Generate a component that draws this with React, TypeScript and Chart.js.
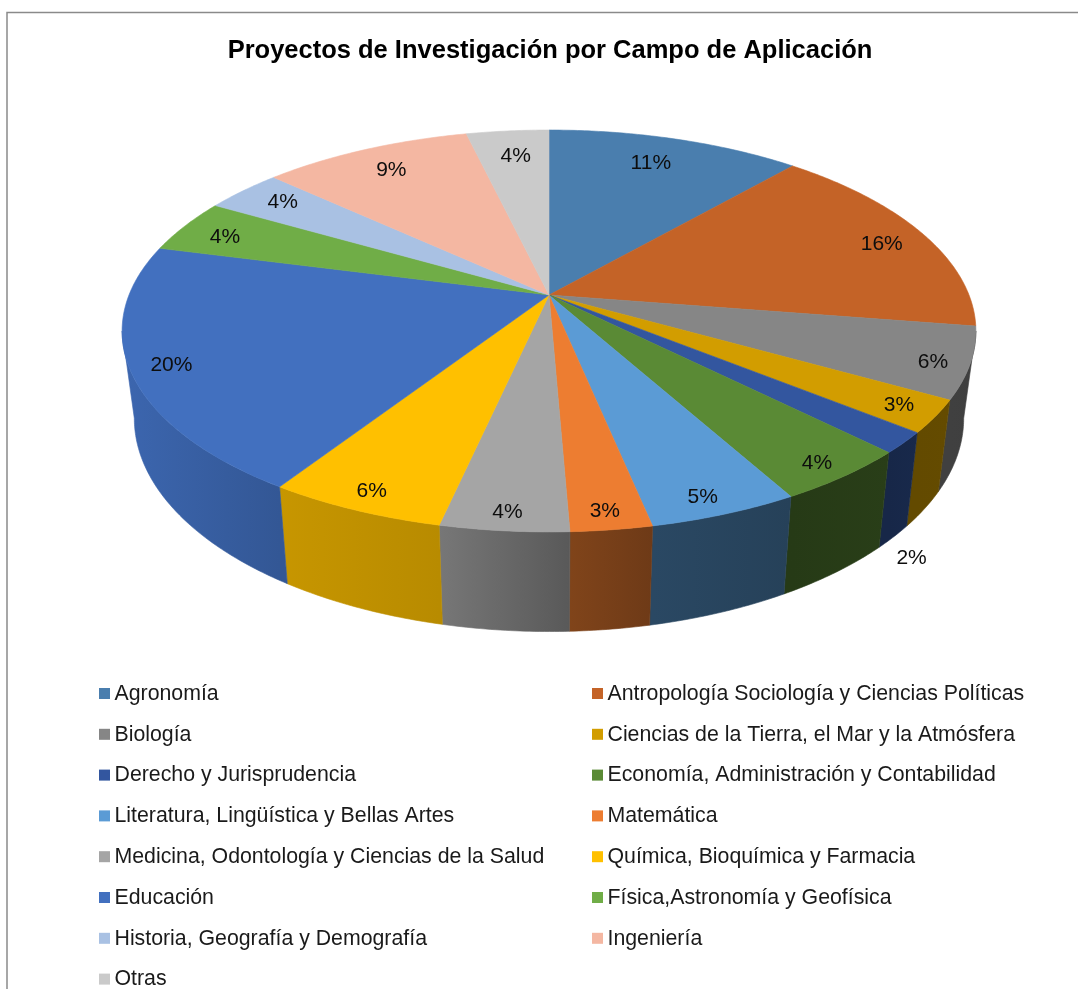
import React, { useEffect, useRef } from "react";
import { Chart, registerables } from "chart.js";

Chart.register(...registerables);

const categories = [
  "Agronomía",
  "Antropología Sociología y Ciencias Políticas",
  "Biología",
  "Ciencias de la Tierra, el Mar y la Atmósfera",
  "Derecho y Jurisprudencia",
  "Economía, Administración y Contabilidad",
  "Literatura, Lingüística y Bellas Artes",
  "Matemática",
  "Medicina, Odontología y Ciencias de la Salud",
  "Química, Bioquímica y Farmacia",
  "Educación",
  "Física,Astronomía y Geofísica",
  "Historia, Geografía y Demografía",
  "Ingeniería",
  "Otras",
];
const shares = [11.4, 16, 5.7, 2.6, 1.7, 4.4, 4.8, 2.6, 4.1, 5.7, 19.8, 4.3, 3.5, 9.4, 3.7];
const colors = [
  "#4a7eae", "#c46327", "#868686", "#d29d00", "#33569f",
  "#5a8a35", "#5b9bd5", "#ed7d31", "#a5a5a5", "#ffc000",
  "#4270bf", "#70ad47", "#a9c1e3", "#f4b7a2", "#cacaca",
];
const labelRadii = [0.82, 0.875, 0.92, 0.915, 0, 0.93, 0.93, 0.935, 0.935, 0.925, 0.91, 0.874, 0.866, 0.84, 0.825];
const labelTurns = [-0.016, 0.03, 0.024, 0, 0, 0.01, 0.018, 0.004, 0, 0, -0.012, -0.02, 0.008, 0, 0.006];
const title = "Proyectos de Investigación por Campo de Aplicación";

const FONT = '"Liberation Sans", Arial, sans-serif';
const K = 0.179;
const TOP = { cx: 549, cy: 295, rx: 420, ry: 194.5 };
const BOTTOM = { cx: 549, cy: 380, rx: 408, ry: 206.5 };
// wall shading: horizontal position on the disc -> brightness
const SHADE: [number, number][] = [
  [-1, 0.92], [-0.55, 0.78], [-0.2, 0.72], [0.02, 0.55], [0.3, 0.42], [0.6, 0.42], [0.8, 0.48], [1, 0.47],
];

function project(p: typeof TOP, u: number, v: number) {
  const w = 1 - K * v;
  return { x: p.cx + (p.rx * u) / w, y: p.cy + (p.ry * v) / w };
}
function shadeAt(u: number) {
  for (let i = 1; i < SHADE.length; i++) {
    if (u <= SHADE[i][0]) {
      const [a, fa] = SHADE[i - 1];
      const [b, fb] = SHADE[i];
      return fa + ((fb - fa) * (u - a)) / (b - a);
    }
  }
  return SHADE[SHADE.length - 1][1];
}
function scaleColor(hex: string, f: number) {
  const n = parseInt(hex.slice(1), 16);
  const c = [(n >> 16) & 255, (n >> 8) & 255, n & 255].map((x) => Math.round(x * f));
  return `rgb(${c[0]},${c[1]},${c[2]})`;
}
function arcPts(p: typeof TOP, a0: number, a1: number) {
  const steps = Math.max(2, Math.ceil(Math.abs(a1 - a0) / 0.01));
  const pts: { x: number; y: number }[] = [];
  for (let i = 0; i <= steps; i++) {
    const a = a0 + ((a1 - a0) * i) / steps;
    pts.push(project(p, Math.cos(a), Math.sin(a)));
  }
  return pts;
}

const pie3d = {
  id: "pie3d",
  beforeDraw(chart: any) {
    const { ctx } = chart;
    ctx.save();
    ctx.fillStyle = "#ffffff";
    ctx.fillRect(0, 0, chart.width, chart.height);
    ctx.strokeStyle = "#8a8a8a";
    ctx.lineWidth = 1.5;
    ctx.beginPath();
    ctx.moveTo(7, chart.height);
    ctx.lineTo(7, 12.5);
    ctx.lineTo(chart.width, 12.5);
    ctx.stroke();
    ctx.restore();
  },
  beforeDatasetDraw(chart: any, args: any) {
    const { ctx } = chart;
    const arcs = args.meta.data;
    const wallStart = Math.asin(K);
    const wallEnd = Math.PI - wallStart;
    ctx.save();
    // side walls
    arcs.forEach((arc: any, i: number) => {
      const norm = (t: number) => ((t % (2 * Math.PI)) + 2 * Math.PI) % (2 * Math.PI);
      const s = norm(arc.startAngle);
      let e = norm(arc.endAngle);
      if (e < s) e += 2 * Math.PI;
      const a0 = Math.max(s, wallStart);
      const a1 = Math.min(e, wallEnd);
      if (a1 <= a0) return;
      const top = arcPts(TOP, a0, a1);
      const bot = arcPts(BOTTOM, a0, a1).reverse();
      const first = top[0];
      const last = top[top.length - 1];
      const g = ctx.createLinearGradient(first.x, 0, last.x, 0);
      g.addColorStop(0, scaleColor(colors[i], shadeAt(Math.cos(a0))));
      g.addColorStop(1, scaleColor(colors[i], shadeAt(Math.cos(a1))));
      ctx.beginPath();
      [...top, ...bot].forEach((pt, n) => (n ? ctx.lineTo(pt.x, pt.y) : ctx.moveTo(pt.x, pt.y)));
      ctx.closePath();
      ctx.fillStyle = g;
      ctx.strokeStyle = g;
      ctx.lineWidth = 0.6;
      ctx.fill();
      ctx.stroke();
    });
    // top surface
    arcs.forEach((arc: any, i: number) => {
      const pts = arcPts(TOP, arc.startAngle, arc.endAngle);
      ctx.beginPath();
      ctx.moveTo(TOP.cx, TOP.cy);
      pts.forEach((pt) => ctx.lineTo(pt.x, pt.y));
      ctx.closePath();
      ctx.fillStyle = colors[i];
      ctx.strokeStyle = colors[i];
      ctx.lineWidth = 0.6;
      ctx.fill();
      ctx.stroke();
    });
    // percentage labels
    const total = shares.reduce((a, b) => a + b, 0);
    ctx.fillStyle = "#0d0d0d";
    ctx.font = `21px ${FONT}`;
    ctx.textAlign = "center";
    ctx.textBaseline = "middle";
    arcs.forEach((arc: any, i: number) => {
      const mid = (arc.startAngle + arc.endAngle) / 2 + labelTurns[i];
      const u = Math.cos(mid);
      const v = Math.sin(mid);
      const text = `${Math.round((shares[i] / total) * 100)}%`;
      if (labelRadii[i] > 0) {
        const pos = project(TOP, u * labelRadii[i], v * labelRadii[i]);
        ctx.fillText(text, pos.x, pos.y);
      } else {
        const pos = project(BOTTOM, u, v);
        ctx.fillText(text, pos.x + 18, pos.y + 21);
      }
    });
    ctx.restore();
    return false;
  },
  afterDraw(chart: any) {
    const { ctx } = chart;
    ctx.save();
    ctx.font = `21.3px ${FONT}`;
    ctx.textBaseline = "middle";
    ctx.textAlign = "left";
    chart.data.labels.forEach((label: string, i: number) => {
      const col = i % 2;
      const row = Math.floor(i / 2);
      const x = col ? 592 : 99;
      const y = 693 + row * 40.8;
      ctx.fillStyle = colors[i];
      ctx.fillRect(x, y - 5, 11, 11);
      ctx.fillStyle = "#1a1a1a";
      ctx.fillText(label, x + 15.5, y + 1);
    });
    ctx.restore();
  },
};

export default function App() {
  const ref = useRef<HTMLCanvasElement>(null);
  useEffect(() => {
    const chart = new Chart(ref.current as HTMLCanvasElement, {
      type: "pie",
      data: {
        labels: categories,
        datasets: [{ data: shares, backgroundColor: colors, borderWidth: 0 }],
      },
      options: {
        responsive: false,
        animation: false,
        layout: { padding: { top: 20, left: 22 } },
        plugins: {
          legend: { display: false },
          tooltip: { enabled: false },
          title: {
            display: true,
            fullSize: false,
            text: title,
            color: "#000000",
            font: { family: FONT, size: 25.5, weight: "bold" },
            padding: { top: 16, bottom: 0 },
          },
        },
      },
      plugins: [pie3d],
    } as any);
    return () => chart.destroy();
  }, []);
  return (
    <canvas
      ref={ref}
      width={1078}
      height={989}
      style={{ position: "fixed", left: 0, top: 0, display: "block" }}
    />
  );
}
